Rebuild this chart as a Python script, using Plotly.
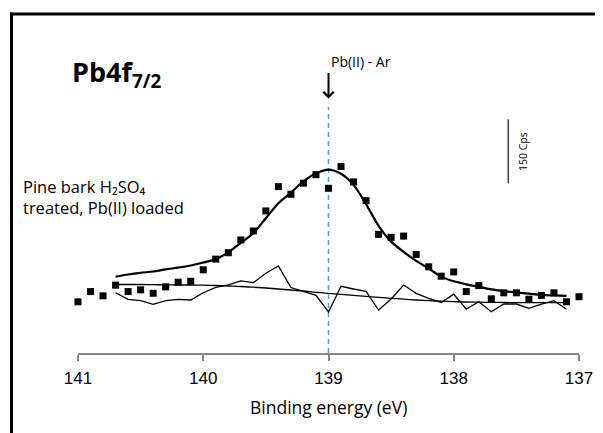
import plotly.graph_objects as go

# ---- data (binding energy in eV, intensity in counts/s, arbitrary offset) ----
energy_pts = [141.0, 140.9, 140.8, 140.7, 140.6, 140.5, 140.4, 140.3, 140.2, 140.1,
              140.0, 139.9, 139.8, 139.7, 139.6, 139.5, 139.4, 139.3, 139.2, 139.1,
              139.0, 138.9, 138.8, 138.7, 138.6, 138.5, 138.4, 138.3, 138.2, 138.1,
              138.0, 137.9, 137.8, 137.7, 137.6, 137.5, 137.4, 137.3, 137.2, 137.1,
              137.0]
measured = [120, 144, 134, 159, 144, 148, 140, 155, 166, 168,
            195, 220, 235, 265, 286, 333, 390, 372, 398, 418,
            386, 437, 401, 357, 278, 271, 274, 231, 202, 180,
            190, 144, 158, 127, 141, 141, 126, 135, 141, 120,
            132]

energy_fit = [140.7, 140.6, 140.5, 140.4, 140.3, 140.2, 140.1, 140.0, 139.9, 139.8,
              139.7, 139.6, 139.5, 139.4, 139.3, 139.2, 139.1, 139.0, 138.9, 138.8,
              138.7, 138.6, 138.5, 138.4, 138.3, 138.2, 138.1, 138.0, 137.9, 137.8,
              137.7, 137.6, 137.5, 137.4, 137.3, 137.2, 137.1]
fit_envelope = [179, 184, 188, 191, 196, 200, 205, 212, 220, 236,
                258, 281, 316, 351, 376, 402, 421, 430, 420, 394,
                349, 298, 261, 237, 216, 198, 179, 168, 161, 155,
                149, 145, 142, 139, 136, 135, 134]
background = [160.5, 160.5, 160.5, 160.1, 159.8, 159.4, 159.4, 158.9, 158.2, 157.0,
              155.9, 154.2, 152.3, 150.0, 147.7, 145.3, 142.3, 139.9, 137.6, 135.2,
              132.9, 130.5, 128.2, 126.1, 124.2, 122.6, 121.4, 120.5, 119.5, 119.1,
              118.6, 118.4, 118.1, 118.1, 117.9, 117.9, 117.9]
residual = [141.3, 125.9, 122.6, 114.1, 122.6, 125.9, 124.2, 141.3, 154.0, 159.4,
            168.8, 164.8, 186.8, 203.9, 153.5, 143.7, 135.2, 96.1, 156.3, 150.0,
            144.6, 100.8, 126.6, 159.4, 139.9, 128.2, 118.4, 137.8, 102.7, 120.2,
            96.8, 114.8, 114.8, 104.8, 114.8, 122.6, 102.4]

x_ticks = [141, 140, 139, 138, 137]
peak_position = 139.0
scale_bar_cps = 150

# ---- layout geometry (page pixels; the page body has an 8px margin) ----
OFF = 8
W, H = 603 - OFF, 433 - OFF
L, R, T, B = 78, 579, 13, 353          # plot area in page pixels
Y_MAX = (B - T) * scale_bar_cps / 64.0


def xp(px):
    return (px - L) / (R - L)


def yp(py):
    return (B - py) / (B - T)


CAL = "'Open Sans', Lato, sans-serif"

fig = go.Figure()

fig.add_trace(go.Scatter(x=energy_fit, y=residual, mode="lines",
                         line=dict(color="black", width=1.3), hoverinfo="skip"))
fig.add_trace(go.Scatter(x=energy_fit, y=background, mode="lines",
                         line=dict(color="black", width=1.3, shape="spline"), hoverinfo="skip"))
fig.add_trace(go.Scatter(x=energy_fit, y=fit_envelope, mode="lines",
                         line=dict(color="black", width=2.2, shape="spline", smoothing=0.8),
                         hoverinfo="skip"))
fig.add_trace(go.Scatter(x=energy_pts, y=measured, mode="markers", cliponaxis=False,
                         marker=dict(symbol="square", size=7, color="black"),
                         hoverinfo="skip"))

shapes = [
    # frame (left and top)
    dict(type="line", xref="paper", yref="paper", x0=xp(11.5), x1=xp(11.5),
         y0=yp(12.5), y1=yp(440), line=dict(color="black", width=3)),
    dict(type="line", xref="paper", yref="paper", x0=xp(10), x1=xp(610),
         y0=yp(14), y1=yp(14), line=dict(color="black", width=3)),
    # dashed peak marker
    dict(type="line", xref="x", yref="paper", x0=peak_position, x1=peak_position,
         y0=0, y1=yp(107), layer="below",
         line=dict(color="#5B9BD5", width=1.5, dash="5px,4px")),
]

# scale bar (150 cps)
bar_x = 141 - (508.3 - L) / ((R - L) / 4.0)
bar_y0 = (B - 183.3) * scale_bar_cps / 64.0
shapes.append(dict(type="line", xref="x", yref="y", x0=bar_x, x1=bar_x,
                   y0=bar_y0, y1=bar_y0 + scale_bar_cps,
                   line=dict(color="#404040", width=1.5)))

annotations = [
    dict(x=peak_position, y=yp(98.5), xref="x", yref="paper", text="",
         showarrow=True, ax=0, ay=-27, arrowhead=4, arrowsize=1, arrowwidth=2,
         arrowcolor="black"),
    dict(x=xp(329), y=yp(61), xref="paper", yref="paper", text="Pb(II) - Ar",
         showarrow=False, xanchor="left", yanchor="middle",
         font=dict(family=CAL, size=14, color="black")),
    dict(x=xp(70), y=yp(73), xref="paper", yref="paper",
         text="<b>Pb4f<sub>7/2</sub></b>", showarrow=False, xanchor="left",
         yanchor="middle", font=dict(family=CAL, size=27, color="black")),
    dict(x=xp(21), y=yp(197), xref="paper", yref="paper",
         text="Pine bark H₂SO₄<br>treated, Pb(II) loaded",
         showarrow=False, xanchor="left", yanchor="middle", align="left",
         font=dict(family=CAL, size=16.5, color="black")),
    dict(x=xp(523), y=yp(152), xref="paper", yref="paper", text="150 Cps",
         showarrow=False, textangle=-90, xanchor="center", yanchor="middle",
         font=dict(family=CAL, size=10.5, color="black")),
    dict(x=peak_position, y=yp(407), xref="x", yref="paper",
         text="Binding energy (eV)", showarrow=False, xanchor="center",
         yanchor="middle", font=dict(family=CAL, size=17.5, color="black")),
]

fig.update_layout(
    width=W, height=H,
    margin=dict(l=L - OFF, r=W - (R - OFF), t=T - OFF, b=H - (B - OFF), pad=0),
    paper_bgcolor="white", plot_bgcolor="white",
    showlegend=False,
    shapes=shapes, annotations=annotations,
    xaxis=dict(range=[141, 137], tickvals=x_ticks, ticktext=[str(t) for t in x_ticks],
               showgrid=False, zeroline=False, showline=True, linecolor="#868686",
               linewidth=1.5, ticks="outside", ticklen=6, tickwidth=1.5,
               tickcolor="#868686", ticklabelstandoff=3,
               tickfont=dict(family="Liberation Sans, Arial, sans-serif", size=17,
                             color="black")),
    yaxis=dict(range=[0, Y_MAX], visible=False, showgrid=False, zeroline=False),
)

fig.write_html("out.html")
